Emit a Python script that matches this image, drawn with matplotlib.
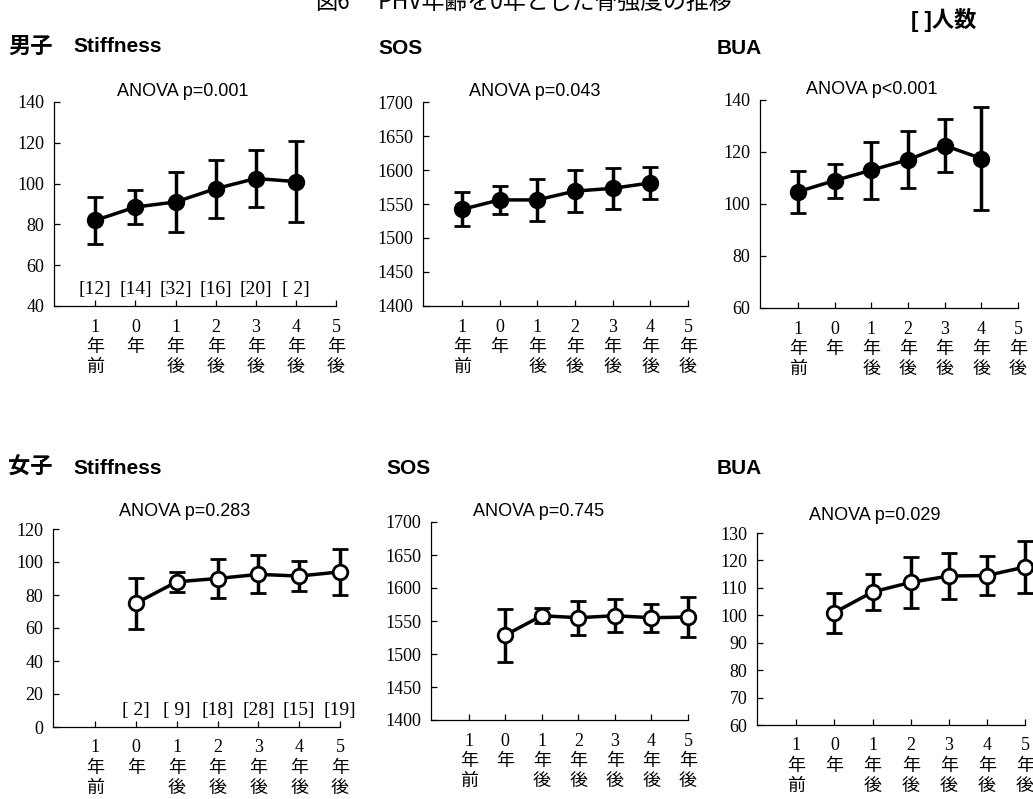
import matplotlib
matplotlib.use('Agg')
import matplotlib.pyplot as plt
import numpy as np

plt.rcParams['font.family'] = ['Liberation Sans', 'Noto Sans CJK JP']
plt.rcParams['axes.unicode_minus'] = False

W, H = 1033, 799

# x categories: years relative to PHV age
x_labels = ['1\n年\n前', '0\n年', '1\n年\n後', '2\n年\n後', '3\n年\n後', '4\n年\n後', '5\n年\n後']

# 男子 (boys): 1年前 .. 4年後
boys_x = [0, 1, 2, 3, 4, 5]
boys_n = ['[12]', '[14]', '[32]', '[16]', '[20]', '[ 2]']
boys_stiff_mean = [82, 88.5, 91, 97.5, 102.5, 101]
boys_stiff_sd = [11.5, 8.3, 14.5, 14.3, 14, 19.8]
boys_sos_mean = [1542, 1556, 1556, 1569, 1573, 1581]
boys_sos_sd = [25, 20, 31, 31, 30, 24]
boys_bua_mean = [104.7, 109, 113, 117, 122.5, 117.5]
boys_bua_sd = [8, 6.5, 11, 11, 10.3, 19.7]

# 女子 (girls): 0年 .. 5年後
girls_x = [1, 2, 3, 4, 5, 6]
girls_n = ['[ 2]', '[ 9]', '[18]', '[28]', '[15]', '[19]']
girls_stiff_mean = [75, 88, 90, 92.5, 91.5, 94]
girls_stiff_sd = [15.6, 6, 12, 11.5, 9.3, 14]
girls_sos_mean = [1528.5, 1558, 1555, 1558, 1555, 1556]
girls_sos_sd = [40, 11, 26, 25, 21, 30]
girls_bua_mean = [101, 108.5, 112, 114.3, 114.5, 117.6]
girls_bua_sd = [7.3, 6.5, 9.2, 8.5, 7, 9.4]

serif = ['Liberation Serif', 'Noto Sans CJK JP']


def px_axes(fig, l, r, t, b):
    return fig.add_axes([l / W, 1 - b / H, (r - l) / W, (b - t) / H])


def draw_panel(ax, x, mean, sd, ylim, yticks, filled, counts=None, count_y=None):
    ax.errorbar(x, mean, yerr=sd, fmt='-o', color='black', lw=2.5,
                elinewidth=2.5, capsize=5.5, capthick=2.5,
                ms=10.5, mfc='black' if filled else 'white',
                mec='black', mew=2.0, clip_on=False, zorder=3)
    ax.set_xlim(-1.03, 6.0)
    ax.set_ylim(*ylim)
    ax.set_yticks(yticks)
    ax.set_xticks(range(len(x_labels)))
    ax.set_xticklabels(x_labels, family=serif, fontsize=13, linespacing=1.25,
                       va='top')
    for lab in ax.get_yticklabels():
        lab.set_family(serif)
        lab.set_fontsize(13)
    ax.tick_params(axis='both', direction='in', length=4, width=0.9, color='black')
    ax.tick_params(axis='y', pad=7)
    ax.tick_params(axis='x', pad=9)
    for s in ['top', 'right']:
        ax.spines[s].set_visible(False)
    for s in ['left', 'bottom']:
        ax.spines[s].set_linewidth(0.9)
    ax.patch.set_alpha(0)
    if counts is not None:
        for xi, c in zip(x, counts):
            ax.text(xi, count_y, c, ha='center', va='center', family=serif,
                    fontsize=14)


def fig_text(x, y, s, **kw):
    fig.text(x / W, 1 - y / H, s, **kw)


fig = plt.figure(figsize=(W / 100, H / 100), dpi=100)

# top caption (cut off at the page edge)
fig_text(315, 9, '図6', family=['Noto Sans CJK JP'], fontsize=16, ha='left', va='baseline')
fig_text(378, 9, 'PHV年齢を0年とした骨強度の推移', family=['Noto Sans CJK JP'],
         fontsize=16.5, ha='left', va='baseline')
fig_text(911, 20, '[ ]人数', fontsize=16, fontweight='bold', ha='left', va='center')

# panel titles
fig_text(8, 47, '男子', fontsize=16, fontweight='bold', ha='left', va='center')
fig_text(73, 47, 'Stiffness', fontsize=15, fontweight='bold', ha='left', va='center')
fig_text(378, 48, 'SOS', fontsize=15, fontweight='bold', ha='left', va='center')
fig_text(717, 48, 'BUA', fontsize=15, fontweight='bold', ha='left', va='center')
fig_text(8, 468, '女子', fontsize=16, fontweight='bold', ha='left', va='center')
fig_text(73, 468, 'Stiffness', fontsize=15, fontweight='bold', ha='left', va='center')
fig_text(386, 468, 'SOS', fontsize=15, fontweight='bold', ha='left', va='center')
fig_text(717, 468, 'BUA', fontsize=15, fontweight='bold', ha='left', va='center')

# ANOVA annotations
anova = [(183, 91, 'ANOVA p=0.001'), (535, 92, 'ANOVA p=0.043'), (872, 90, 'ANOVA p<0.001'),
         (185, 512, 'ANOVA p=0.283'), (539, 512, 'ANOVA p=0.745'), (875, 515, 'ANOVA p=0.029')]
for ax_x, ax_y, s in anova:
    fig_text(ax_x, ax_y, s, fontsize=13, ha='center', va='center')

ax1 = px_axes(fig, 54, 336, 102, 306)
draw_panel(ax1, boys_x, boys_stiff_mean, boys_stiff_sd, (40, 140), range(40, 141, 20),
           True, boys_n, 48)

ax2 = px_axes(fig, 423, 688, 102, 306)
draw_panel(ax2, boys_x, boys_sos_mean, boys_sos_sd, (1400, 1700), range(1400, 1701, 50), True)

ax3 = px_axes(fig, 760, 1018, 100, 308)
draw_panel(ax3, boys_x, boys_bua_mean, boys_bua_sd, (60, 140), range(60, 141, 20), True)

ax4 = px_axes(fig, 53, 340, 529, 727)
draw_panel(ax4, girls_x, girls_stiff_mean, girls_stiff_sd, (0, 120), range(0, 121, 20),
           False, girls_n, 10)

ax5 = px_axes(fig, 431, 688, 522, 720)
draw_panel(ax5, girls_x, girls_sos_mean, girls_sos_sd, (1400, 1700), range(1400, 1701, 50), False)

ax6 = px_axes(fig, 757, 1025, 533, 725)
draw_panel(ax6, girls_x, girls_bua_mean, girls_bua_sd, (60, 130), range(60, 131, 10), False)

fig.savefig('out.png', dpi=100)
